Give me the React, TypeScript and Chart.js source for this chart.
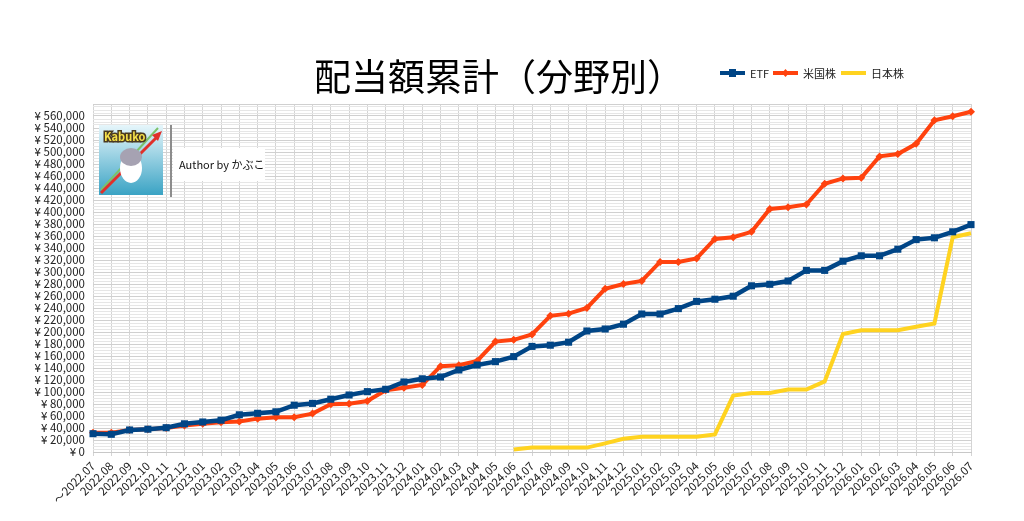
import { Chart, registerables } from "chart.js";
import { useEffect, useRef } from "react";

Chart.register(...registerables);

const months = [
    "～2022.07", "2022.08", "2022.09", "2022.10", "2022.11", "2022.12",
    "2023.01", "2023.02", "2023.03", "2023.04", "2023.05", "2023.06",
    "2023.07", "2023.08", "2023.09", "2023.10", "2023.11", "2023.12",
    "2024.01", "2024.02", "2024.03", "2024.04", "2024.05", "2024.06",
    "2024.07", "2024.08", "2024.09", "2024.10", "2024.11", "2024.12",
    "2025.01", "2025.02", "2025.03", "2025.04", "2025.05", "2025.06",
    "2025.07", "2025.08", "2025.09", "2025.10", "2025.11", "2025.12",
    "2026.01", "2026.02", "2026.03", "2026.04", "2026.05", "2026.06",
    "2026.07",
];

// ETF
const etf = [
    30500, 29500, 36700, 38000, 40500, 47000, 50000, 53000, 62000, 64500,
    67000, 78000, 81000, 88000, 95000, 100600, 104500, 116700, 122000, 125000,
    136700, 145000, 150600, 159000, 176000, 178000, 183000, 201700, 205000, 213000,
    230000, 230000, 239000, 251000, 254600, 259600, 277000, 279500, 285000, 302700,
    302700, 318000, 327000, 327000, 338000, 354000, 357000, 367000, 379000,
];

// 米国株
const usStocks = [
    32000, 32000, 36700, 38000, 40000, 44000, 47000, 49500, 51000, 55600,
    58000, 58000, 64000, 79500, 80600, 85000, 103000, 107000, 111700, 143000,
    144500, 151700, 184000, 187000, 196000, 227000, 230600, 240000, 272000, 280000,
    285000, 316700, 316700, 322600, 355000, 358000, 367000, 405000, 408000, 412500,
    447000, 456000, 457000, 492700, 496500, 513600, 553000, 559500, 567000,
];

// 日本株 (2024.06 から)
const jpStocks = [
    null, null, null, null, null, null, null, null, null, null,
    null, null, null, null, null, null, null, null, null, null,
    null, null, null, 4000, 7300, 7300, 7300, 7300, 14400, 22000,
    25500, 25500, 25500, 25500, 29300, 94000, 98400, 98400, 104000, 104000,
    117600, 196700, 203000, 203000, 203000, 208700, 214300, 358000, 364500,
];

const seriesNames = ["ETF", "米国株", "日本株"];
const seriesColors = ["#004586", "#ff420e", "#ffd320"];

const titleText = "配当額累計（分野別）";
const authorText = "Author by かぶこ";

const FONT = "'Noto Sans CJK JP', 'Noto Sans', sans-serif";

const decorPlugin = {
    id: "decorPlugin",
    afterDraw(chart: any) {
        const { ctx } = chart;
        ctx.save();

        // タイトル
        ctx.font = `37px ${FONT}`;
        ctx.fillStyle = "#000";
        ctx.textAlign = "center";
        ctx.textBaseline = "middle";
        ctx.fillText(titleText, 499, 77);

        // 凡例
        ctx.font = `11px ${FONT}`;
        ctx.textAlign = "left";
        const legendX = [720, 773, 841];
        seriesNames.forEach((name, i) => {
            const x = legendX[i];
            const y = 73;
            ctx.strokeStyle = seriesColors[i];
            ctx.lineWidth = 4;
            ctx.beginPath();
            ctx.moveTo(x, y);
            ctx.lineTo(x + 25, y);
            ctx.stroke();
            ctx.fillStyle = seriesColors[i];
            if (i === 0) {
                ctx.fillRect(x + 9, y - 4, 7, 8);
            } else if (i === 1) {
                ctx.beginPath();
                ctx.moveTo(x + 12.5, y - 4);
                ctx.lineTo(x + 16, y);
                ctx.lineTo(x + 12.5, y + 4);
                ctx.lineTo(x + 9, y);
                ctx.closePath();
                ctx.fill();
            }
            ctx.fillStyle = "#222";
            ctx.fillText(name, x + 30, y + 1);
        });

        // 作者バナー
        const grad = ctx.createLinearGradient(0, 125, 0, 195);
        grad.addColorStop(0, "#e6f6fb");
        grad.addColorStop(1, "#3aa3c4");
        ctx.fillStyle = grad;
        ctx.fillRect(99, 125, 64, 70);
        ctx.strokeStyle = "#7cc26a";
        ctx.lineWidth = 2;
        ctx.beginPath();
        ctx.moveTo(101, 190);
        ctx.lineTo(158, 128);
        ctx.stroke();
        ctx.strokeStyle = "#e0302a";
        ctx.lineWidth = 3;
        ctx.beginPath();
        ctx.moveTo(101, 193);
        ctx.lineTo(158, 136);
        ctx.stroke();
        ctx.fillStyle = "#e0302a";
        ctx.beginPath();
        ctx.moveTo(162, 131);
        ctx.lineTo(152, 135);
        ctx.lineTo(158, 141);
        ctx.closePath();
        ctx.fill();
        ctx.fillStyle = "#ffffff";
        ctx.beginPath();
        ctx.ellipse(131, 168, 11, 15, 0, 0, Math.PI * 2);
        ctx.fill();
        ctx.fillStyle = "#a6a2b2";
        ctx.beginPath();
        ctx.ellipse(131, 157, 11, 9, 0, 0, Math.PI * 2);
        ctx.fill();
        ctx.font = `bold 11px ${FONT}`;
        ctx.lineWidth = 3;
        ctx.strokeStyle = "#4a3a20";
        ctx.strokeText("Kabuko", 104, 137);
        ctx.fillStyle = "#f5e04a";
        ctx.fillText("Kabuko", 104, 137);

        ctx.strokeStyle = "#8c8c8c";
        ctx.lineWidth = 2;
        ctx.beginPath();
        ctx.moveTo(171, 125);
        ctx.lineTo(171, 197);
        ctx.stroke();

        ctx.fillStyle = "#ffffff";
        ctx.fillRect(173, 148, 92, 33);
        ctx.font = `11px ${FONT}`;
        ctx.fillStyle = "#111";
        ctx.fillText(authorText, 179, 165);

        ctx.restore();
    },
};

const LineChart = () => {
    const canvasRef = useRef<HTMLCanvasElement | null>(null);
    const chartRef = useRef<Chart | null>(null);

    useEffect(() => {
        if (!canvasRef.current) return;
        if (chartRef.current) chartRef.current.destroy();

        chartRef.current = new Chart(canvasRef.current, {
            type: "line",
            data: {
                labels: months,
                datasets: [
                    {
                        label: seriesNames[0],
                        data: etf,
                        borderColor: seriesColors[0],
                        backgroundColor: seriesColors[0],
                        borderWidth: 4.5,
                        pointStyle: "rect",
                        pointRadius: 5,
                        pointBorderWidth: 0,
                        tension: 0,
                    },
                    {
                        label: seriesNames[1],
                        data: usStocks,
                        borderColor: seriesColors[1],
                        backgroundColor: seriesColors[1],
                        borderWidth: 4,
                        pointStyle: "rectRot",
                        pointRadius: 4,
                        pointBorderWidth: 0,
                        tension: 0,
                    },
                    {
                        label: seriesNames[2],
                        data: jpStocks,
                        borderColor: seriesColors[2],
                        backgroundColor: seriesColors[2],
                        borderWidth: 4,
                        pointRadius: 0,
                        tension: 0,
                        spanGaps: false,
                    },
                ],
            },
            options: {
                responsive: false,
                animation: false,
                devicePixelRatio: 1,
                layout: { padding: { top: 104, right: 53, left: 0, bottom: 0 } },
                plugins: {
                    legend: { display: false },
                    title: { display: false },
                    tooltip: { enabled: false },
                },
                scales: {
                    x: {
                        offset: false,
                        grid: { color: "#d4d4d4", tickLength: 4 },
                        border: { color: "#c8c8c8" },
                        ticks: {
                            autoSkip: false,
                            maxRotation: 45,
                            minRotation: 45,
                            padding: 3,
                            color: "#222",
                            font: { size: 11.5, family: FONT },
                        },
                        afterFit(scale: any) {
                            scale.height = 69;
                        },
                    },
                    y: {
                        min: 0,
                        max: 580000,
                        grid: {
                            drawTicks: false,
                            color: (c: any) =>
                                c.tick && c.tick.value % 20000 === 0 ? "#d0d0d0" : "#e6e6e6",
                        },
                        border: { display: false },
                        ticks: {
                            stepSize: 5000,
                            autoSkip: false,
                            padding: 8,
                            color: "#222",
                            font: { size: 11.5, family: FONT },
                            callback: (v: any) =>
                                v % 20000 === 0 && v <= 560000
                                    ? "¥ " + Number(v).toLocaleString("en-US")
                                    : "",
                        },
                        afterFit(scale: any) {
                            scale.width = 93;
                        },
                    },
                },
            } as any,
            plugins: [decorPlugin],
        });

        return () => {
            if (chartRef.current) chartRef.current.destroy();
            chartRef.current = null;
        };
    }, []);

    return <canvas ref={canvasRef} width={1024} height={521} style={{ display: "block" }} />;
};

export default function App() {
    return (
        <div style={{ position: "fixed", left: 0, top: 0, width: 1024, height: 521, background: "#fff" }}>
            <LineChart />
        </div>
    );
}
